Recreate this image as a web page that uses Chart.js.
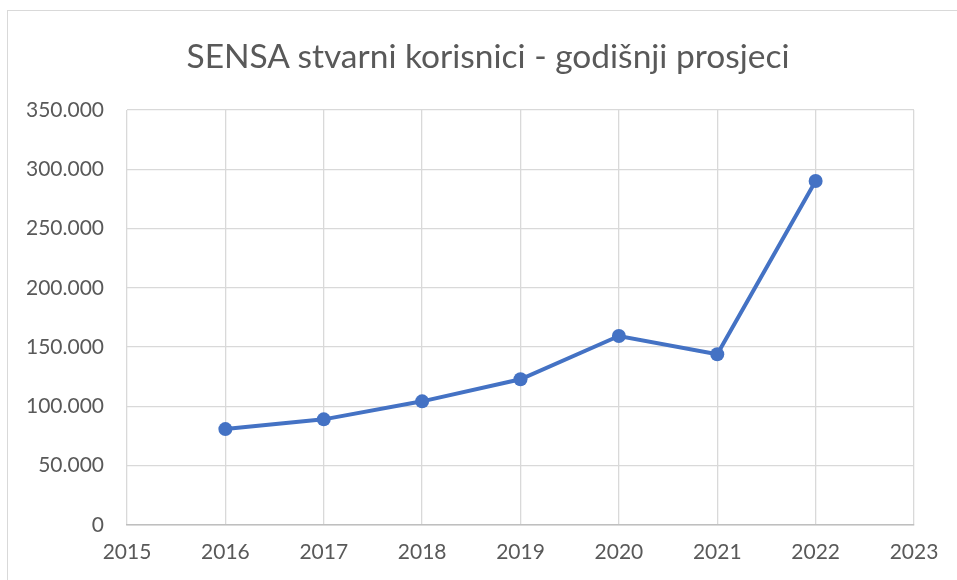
<!DOCTYPE html>
<html>
<head>
<meta charset="utf-8">
<script src="https://cdn.jsdelivr.net/npm/chart.js@4"></script>
<style>
  html, body { margin: 0; padding: 0; background: #fff; }
  #wrap { position: relative; width: 957px; height: 580px; overflow: hidden; }
  #frame { position: absolute; left: 7px; top: 10px; width: 980px; height: 600px; border: 1px solid #d9d9d9; box-sizing: border-box; }
  #myChart { position: absolute; left: 0; top: 0; }
  #naslov { position: absolute; left: 0; width: 976px; top: 35px; text-align: center;
            font-family: 'Lato'; font-size: 33.5px; line-height: 40px; color: #595959; white-space: nowrap; }
</style>
</head>
<body>
<div id="wrap">
  <div id="frame"></div>
  <canvas id="myChart" width="957" height="580"></canvas>
  <div id="naslov"></div>
</div>
<script>
// godisnji prosjeci - stvarni korisnici
var godine = [2016, 2017, 2018, 2019, 2020, 2021, 2022];
var korisnici = [80900, 89100, 104300, 122900, 159400, 144000, 290100];
var naslov = 'SENSA stvarni korisnici - godišnji prosjeci';

document.getElementById('naslov').textContent = naslov;

var tocke = [];
for (var i = 0; i < godine.length; i++) {
  tocke.push({ x: godine[i], y: korisnici[i] });
}

function tisuce(v) {
  return String(v).replace(/\B(?=(\d{3})+(?!\d))/g, '.');
}

var siva = '#595959';
var mreza = '#d9d9d9';

var ctx = document.getElementById('myChart').getContext('2d');
var chart = new Chart(ctx, {
  type: 'line',
  data: {
    datasets: [{
      label: 'Stvarni korisnici',
      data: tocke,
      borderColor: '#4472c4',
      backgroundColor: '#4472c4',
      borderWidth: 4,
      pointRadius: 7,
      pointHoverRadius: 7,
      pointBorderWidth: 0,
      tension: 0
    }]
  },
  options: {
    responsive: false,
    animation: false,
    layout: { padding: { left: 0, right: 43, top: 110, bottom: 0 } },
    plugins: {
      legend: { display: false },
      tooltip: { enabled: false },
      title: { display: false }
    },
    scales: {
      x: {
        type: 'linear',
        min: 2015,
        max: 2023,
        afterFit: function (s) { s.height = 55; },
        grid: { color: mreza, lineWidth: 1.3, drawTicks: false },
        border: { color: '#bfbfbf', width: 1.5 },
        ticks: {
          stepSize: 1,
          padding: 15,
          color: siva,
          font: { family: 'Lato', size: 21 },
          callback: function (v) { return String(v); }
        }
      },
      y: {
        min: 0,
        max: 350000,
        afterFit: function (s) { s.width = 127; },
        grid: { color: mreza, lineWidth: 1.3, drawTicks: false },
        border: { display: false },
        ticks: {
          stepSize: 50000,
          padding: 23,
          color: siva,
          font: { family: 'Lato', size: 21 },
          callback: function (v) { return tisuce(v); }
        }
      }
    }
  }
});
</script>
</body>
</html>
